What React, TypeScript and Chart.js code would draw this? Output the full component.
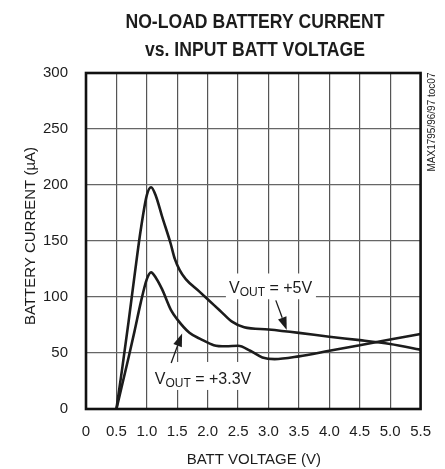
import { useEffect, useRef } from "react";
import { Chart, registerables } from "chart.js";

Chart.register(...registerables);

// ---- data ----
const voltage5V = [0.5, 0.6, 0.7, 0.8, 0.9, 1.0, 1.07, 1.15, 1.25, 1.39, 1.46, 1.54, 1.64, 1.86, 2.0, 2.2, 2.4, 2.6, 3.0, 3.5, 4.0, 4.5, 5.0, 5.5];
const current5V = [0, 38, 78, 120, 160, 191, 198, 190, 172, 148, 134, 124, 116, 105, 98, 88, 78, 73, 71, 68, 64.5, 61.5, 58, 53];

const voltage33V = [0.5, 0.6, 0.7, 0.8, 0.9, 1.0, 1.07, 1.15, 1.25, 1.4, 1.5, 1.7, 1.9, 2.1, 2.3, 2.5, 2.7, 2.9, 3.1, 3.5, 4.0, 4.5, 5.0, 5.5];
const current33V = [0, 23, 46, 70, 95, 116, 122, 117, 107, 88, 80, 68, 62, 57, 56, 56.5, 52, 46, 44.5, 47, 52, 57, 62, 67];

const xTickValues = [0, 0.5, 1.0, 1.5, 2.0, 2.5, 3.0, 3.5, 4.0, 4.5, 5.0, 5.5];
const xTickLabels = ["0", "0.5", "1.0", "1.5", "2.0", "2.5", "3.0", "3.5", "4.0", "4.5", "5.0", "5.5"];
const yTickLabels = ["0", "50", "100", "150", "200", "250", "300"];

const titleLines = ["NO-LOAD BATTERY CURRENT", "vs. INPUT BATT VOLTAGE"];
const xAxisTitle = "BATT VOLTAGE (V)";
const yAxisTitle = "BATTERY CURRENT (\u00B5A)";
const watermark = "MAX1795/96/97 toc07";

// annotation labels: [main, subscript, rest], anchor in data coords
const label5V = { parts: ["V", "OUT", " = +5V"], at: [2.35, 103.5], box: [2.3, 3.78, 121, 98], arrow: [[3.12, 97], [3.3, 70.5]] };
const label33V = { parts: ["V", "OUT", " = +3.3V"], at: [1.13, 22.3], box: [1.08, 2.68, 42, 17], arrow: [[1.4, 41], [1.58, 67.5]] };

const FONT = "'Liberation Sans', Arial, sans-serif";
const INK = "#1c1c1c";

function condensedText(ctx: CanvasRenderingContext2D, text: string, cx: number, cy: number, sx: number) {
  ctx.save();
  ctx.translate(cx, cy);
  ctx.scale(sx, 1);
  ctx.fillText(text, 0, 0);
  ctx.restore();
}

const overlayPlugin = {
  id: "overlay",
  beforeDatasetsDraw(chart: any) {
    const { ctx, scales } = chart;
    const x = scales.x, y = scales.y;
    ctx.save();
    ctx.fillStyle = "#ffffff";
    for (const l of [label5V, label33V]) {
      const [x0, x1, y0, y1] = l.box;
      const px0 = x.getPixelForValue(x0), px1 = x.getPixelForValue(x1);
      const py0 = y.getPixelForValue(y0), py1 = y.getPixelForValue(y1);
      ctx.fillRect(px0, py0, px1 - px0, py1 - py0);
    }
    ctx.restore();
  },
  afterDatasetsDraw(chart: any) {
    const { ctx, scales, chartArea } = chart;
    const x = scales.x, y = scales.y;
    ctx.save();
    // frame
    ctx.strokeStyle = "#111";
    ctx.lineWidth = 2.6;
    ctx.strokeRect(chartArea.left, chartArea.top, chartArea.right - chartArea.left, chartArea.bottom - chartArea.top);

    // labels
    ctx.fillStyle = INK;
    ctx.textBaseline = "alphabetic";
    ctx.textAlign = "left";
    for (const l of [label5V, label33V]) {
      let px = x.getPixelForValue(l.at[0]);
      const py = y.getPixelForValue(l.at[1]);
      ctx.font = `16px ${FONT}`;
      ctx.fillText(l.parts[0], px, py);
      px += ctx.measureText(l.parts[0]).width;
      ctx.font = `12px ${FONT}`;
      ctx.fillText(l.parts[1], px, py + 3);
      px += ctx.measureText(l.parts[1]).width;
      ctx.font = `16px ${FONT}`;
      ctx.fillText(l.parts[2], px, py);

      // arrow
      const ax0 = x.getPixelForValue(l.arrow[0][0]), ay0 = y.getPixelForValue(l.arrow[0][1]);
      const ax1 = x.getPixelForValue(l.arrow[1][0]), ay1 = y.getPixelForValue(l.arrow[1][1]);
      const ang = Math.atan2(ay1 - ay0, ax1 - ax0);
      const headLen = 13, headW = 4.5;
      const bx = ax1 - headLen * Math.cos(ang), by = ay1 - headLen * Math.sin(ang);
      ctx.strokeStyle = INK;
      ctx.lineWidth = 1.3;
      ctx.beginPath();
      ctx.moveTo(ax0, ay0);
      ctx.lineTo(bx, by);
      ctx.stroke();
      ctx.beginPath();
      ctx.moveTo(ax1, ay1);
      ctx.lineTo(bx + headW * Math.sin(ang), by - headW * Math.cos(ang));
      ctx.lineTo(bx - headW * Math.sin(ang), by + headW * Math.cos(ang));
      ctx.closePath();
      ctx.fill();
    }
    ctx.restore();
  },
  afterDraw(chart: any) {
    const { ctx, chartArea } = chart;
    ctx.save();
    ctx.fillStyle = INK;
    ctx.textAlign = "center";
    ctx.textBaseline = "middle";
    // title (condensed bold)
    ctx.font = `bold 20px ${FONT}`;
    condensedText(ctx, titleLines[0], 255, 22, 0.88);
    condensedText(ctx, titleLines[1], 255, 50, 0.88);
    // x axis title
    ctx.font = `15px ${FONT}`;
    ctx.fillText(xAxisTitle, (chartArea.left + chartArea.right) / 2 + 0.5, 460);
    // y axis title
    ctx.save();
    ctx.translate(31, 236);
    ctx.rotate(-Math.PI / 2);
    ctx.fillText(yAxisTitle, 0, 0);
    ctx.restore();
    // watermark
    ctx.save();
    ctx.font = `10px ${FONT}`;
    ctx.fillStyle = "#222";
    ctx.translate(432, 122);
    ctx.rotate(-Math.PI / 2);
    ctx.fillText(watermark, 0, 0);
    ctx.restore();
    ctx.restore();
  },
};

export default function App() {
  const ref = useRef<HTMLCanvasElement | null>(null);

  useEffect(() => {
    document.body.style.margin = "0";
    const canvas = ref.current;
    if (!canvas) return;
    const chart = new Chart(canvas, {
      type: "line",
      data: {
        datasets: [
          {
            label: "VOUT = +5V",
            data: voltage5V.map((v, i) => ({ x: v, y: current5V[i] })),
            borderColor: INK,
            borderWidth: 2.6,
            pointRadius: 0,
            cubicInterpolationMode: "monotone",
            fill: false,
          },
          {
            label: "VOUT = +3.3V",
            data: voltage33V.map((v, i) => ({ x: v, y: current33V[i] })),
            borderColor: INK,
            borderWidth: 2.6,
            pointRadius: 0,
            cubicInterpolationMode: "monotone",
            fill: false,
          },
        ],
      },
      options: {
        animation: false,
        responsive: false,
        maintainAspectRatio: false,
        layout: { padding: { left: 0, right: 22, top: 73, bottom: 0 } },
        plugins: { legend: { display: false }, tooltip: { enabled: false }, title: { display: false } },
        scales: {
          x: {
            type: "linear",
            min: 0,
            max: 5.5,
            afterFit: (s: any) => { s.height = 60; },
            afterBuildTicks: (s: any) => { s.ticks = xTickValues.map((v) => ({ value: v })); },
            ticks: {
              padding: 14,
              color: INK,
              font: { size: 15, family: FONT },
              maxRotation: 0,
              autoSkip: false,
              callback: (_v: any, i: number) => xTickLabels[i],
            },
            grid: { color: "#555", lineWidth: 1.2, drawTicks: false },
            border: { display: false },
          },
          y: {
            type: "linear",
            min: 0,
            max: 300,
            afterFit: (s: any) => { s.width = 86; },
            afterBuildTicks: (s: any) => { s.ticks = yTickLabels.map((t) => ({ value: Number(t) })); },
            ticks: {
              padding: 18,
              color: INK,
              font: { size: 15, family: FONT },
              autoSkip: false,
              callback: (_v: any, i: number) => yTickLabels[i],
            },
            grid: { color: "#666", lineWidth: 1.2, drawTicks: false },
            border: { display: false },
          },
        },
      },
      plugins: [overlayPlugin],
    });
    return () => chart.destroy();
  }, []);

  return (
    <div style={{ width: 445, height: 469, background: "#fff" }}>
      <canvas ref={ref} width={445} height={469} style={{ display: "block" }} />
    </div>
  );
}
